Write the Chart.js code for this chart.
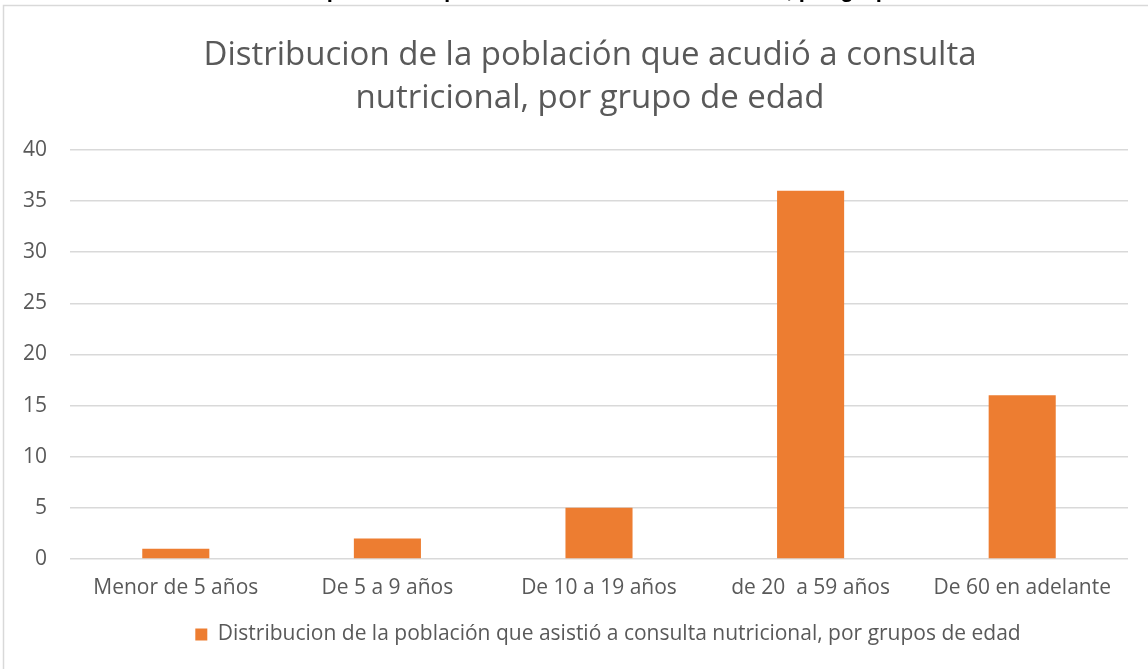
<!DOCTYPE html>
<html>
<head>
<meta charset="utf-8">
<script src="https://cdn.jsdelivr.net/npm/chart.js@4"></script>
<style>
    html, body { margin: 0; padding: 0; background: #fff; overflow: hidden; }
    #wrap { position: relative; width: 1148px; height: 669px; }
    #heading {
        position: absolute; left: -10px; top: -23px; width: 1148px;
        text-align: center; font: bold 22px 'Liberation Sans', sans-serif;
        line-height: 26px; color: #000; white-space: nowrap;
    }
    canvas { position: absolute; left: 0; top: 0; }
</style>
</head>
<body>
<div id="wrap">
    <canvas id="chart" width="1148" height="669"></canvas>
    <div id="heading">Distribución de la población que acudió a consulta nutricional, por grupo de edad</div>
</div>
<script>
// Chart data
const categories = ['Menor de 5 años', 'De 5 a 9 años', 'De 10 a 19 años', 'de 20  a 59 años', 'De 60 en adelante'];
const values = [1, 2, 5, 36, 16];
const seriesLabel = 'Distribucion de la población que asistió a consulta nutricional, por grupos de edad';
const titleLines = ['Distribucion de la población que acudió a consulta', 'nutricional, por grupo de edad'];

const textColor = '#595959';
const gridColor = '#d9d9d9';
const fontFamily = "'Open Sans', sans-serif";

// White background and the chart frame (left + top edges visible)
const framePlugin = {
    id: 'frame',
    beforeDraw(chart) {
        const ctx = chart.ctx;
        ctx.save();
        ctx.fillStyle = '#fff';
        ctx.fillRect(0, 0, chart.width, chart.height);
        ctx.strokeStyle = gridColor;
        ctx.lineWidth = 1.5;
        ctx.beginPath();
        ctx.moveTo(3.5, chart.height);
        ctx.lineTo(3.5, 5.5);
        ctx.lineTo(chart.width, 5.5);
        ctx.stroke();
        ctx.restore();
    }
};

// In the original, title and legend sit a little right of the canvas centre
const shiftPlugin = {
    id: 'shift',
    afterLayout(chart) {
        if (chart.titleBlock) {
            chart.titleBlock.left += 26;
            chart.titleBlock.right += 26;
        }
        if (chart.legend) {
            chart.legend.left += 44;
            chart.legend.right += 44;
        }
    }
};

new Chart(document.getElementById('chart'), {
    type: 'bar',
    data: {
        labels: categories,
        datasets: [{
            label: seriesLabel,
            data: values,
            backgroundColor: '#ed7d31',
            borderWidth: 0,
            categoryPercentage: 1,
            barPercentage: 0.317
        }]
    },
    options: {
        responsive: false,
        animation: false,
        layout: { padding: { left: 0, right: 20, top: 0, bottom: 14 } },
        plugins: {
            title: {
                display: true,
                text: titleLines,
                color: textColor,
                font: { family: fontFamily, size: 33, weight: 'normal', lineHeight: 1.3 },
                padding: { top: 34, bottom: 30 }
            },
            legend: {
                position: 'bottom',
                labels: {
                    color: textColor,
                    font: { family: fontFamily, size: 21 },
                    boxWidth: 12,
                    boxHeight: 12,
                    padding: 10
                }
            },
            tooltip: { enabled: false }
        },
        scales: {
            x: {
                grid: { display: false },
                border: { display: false },
                ticks: {
                    color: textColor,
                    font: { family: fontFamily, size: 21 },
                    padding: 8,
                    maxRotation: 0
                },
                afterFit(scale) { scale.height = 55; }
            },
            y: {
                min: 0,
                max: 40,
                grid: { color: gridColor, lineWidth: 1.5, drawTicks: false },
                border: { display: false },
                ticks: {
                    stepSize: 5,
                    color: textColor,
                    font: { family: fontFamily, size: 21 },
                    padding: 23
                },
                afterFit(scale) { scale.width = 70; }
            }
        }
    },
    plugins: [framePlugin, shiftPlugin]
});
</script>
</body>
</html>
